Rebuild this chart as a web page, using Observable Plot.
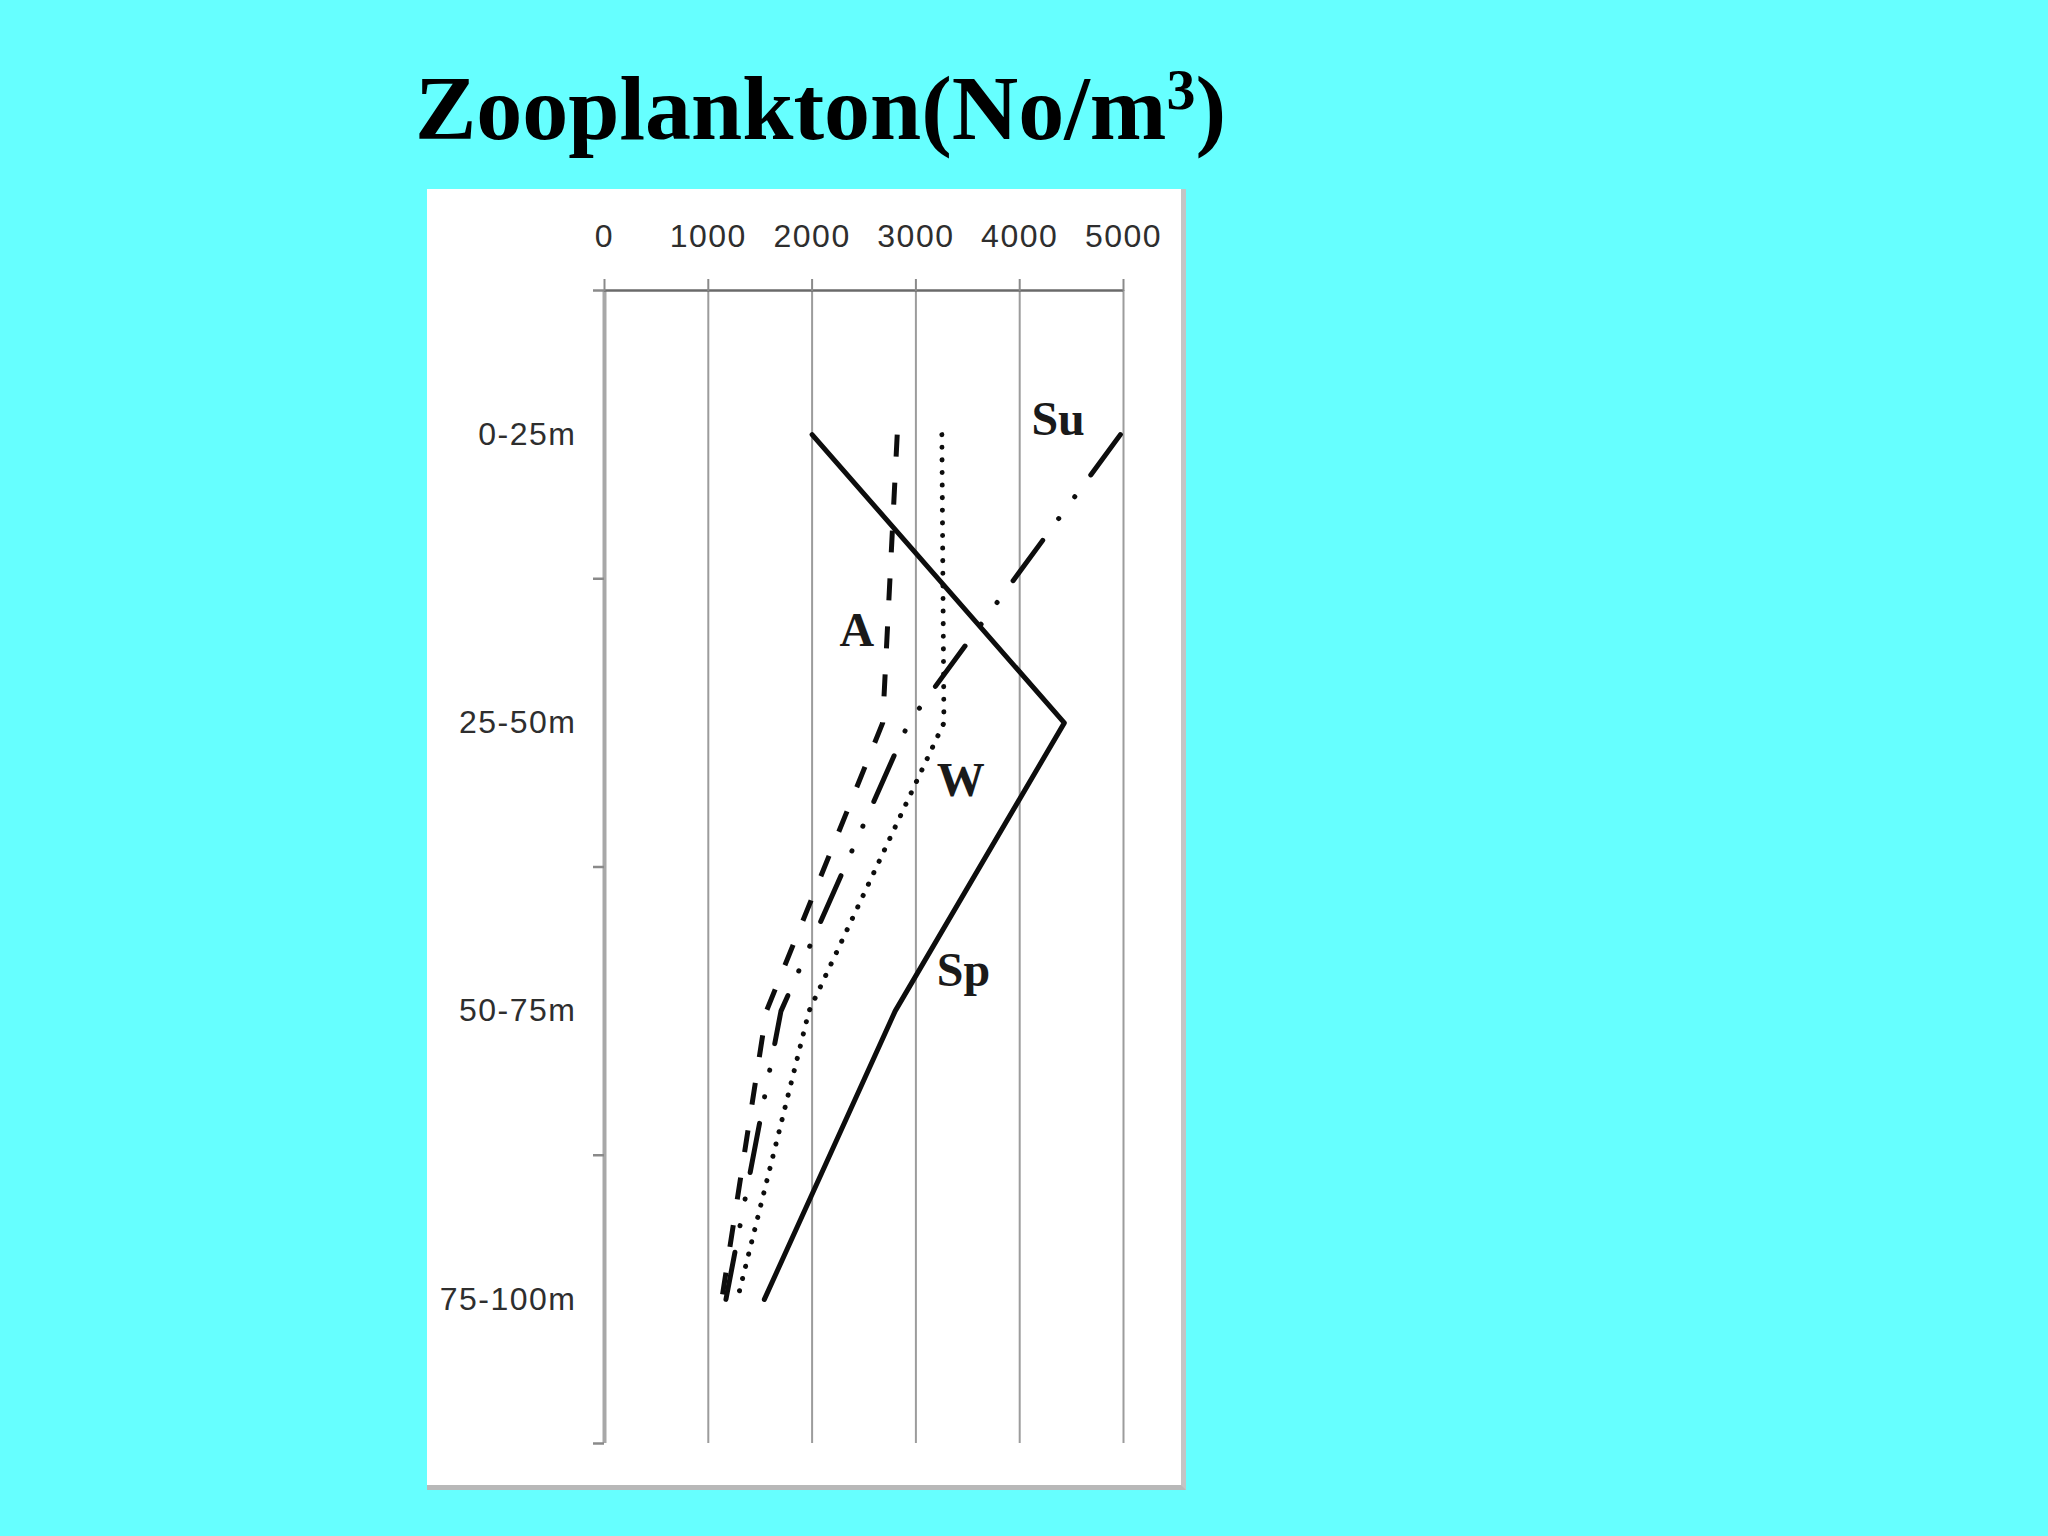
<!DOCTYPE html>
<html>
<head>
<meta charset="utf-8">
<script src="https://cdn.jsdelivr.net/npm/d3@7"></script>
<script src="https://cdn.jsdelivr.net/npm/@observablehq/plot@0.6"></script>
<style>
  html, body { margin: 0; padding: 0; }
  body { width: 2048px; height: 1536px; background: #66ffff; position: relative; overflow: hidden; }
  #title {
    position: absolute; left: 415px; top: 62px;
    font-family: "Liberation Serif", "Times New Roman", serif;
    font-weight: bold; font-size: 92px; line-height: 92px; color: #000; white-space: nowrap;
  }
  #title .sup { font-size: 58px; position: relative; top: -30px; }
  #panel {
    position: absolute; left: 427px; top: 189px;
    background: #fff;
    border-right: 5px solid #c4c4c4; border-bottom: 5px solid #b8b8b8;
    line-height: 0;
  }
  g[aria-label="x-axis tick label"] text,
  g[aria-label="y-axis tick label"] text { letter-spacing: 1.5px; }
</style>
</head>
<body>
<div id="title">Zooplankton(No/m<span class="sup">3</span>)</div>
<div id="panel"></div>
<script>
// ---- data ----
const depths = ["0-25m", "25-50m", "50-75m", "75-100m"];
const depthIndex = [0, 1, 2, 3];
const bandEdges = [-0.5, 0.5, 1.5, 2.5, 3.5];
const xTicks = [0, 1000, 2000, 3000, 4000, 5000];

const seasons = ["Sp", "Su", "A", "W"];
const spring = [2000, 4430, 2800, 1540];
const summer = [4970, 2930, 1700, 1170];
const autumn = [2820, 2680, 1560, 1130];
const winter = [3250, 3270, 1970, 1280];

// in-chart series labels (value, depth position)
const labelText = ["Su", "A", "W", "Sp"];
const labelValue = [4113, 2263, 3202, 3202];
const labelDepth = [0.003, 0.732, 1.252, 1.912];

// ---- build tables ----
const seriesValues = [spring, summer, autumn, winter];
const rows = seasons.flatMap((s, k) => seriesValues[k].map((v, i) => ({season: s, depth: depthIndex[i], value: v})));
const bySeason = s => rows.filter(d => d.season === s);
const labels = labelText.map((t, i) => ({text: t, value: labelValue[i], depth: labelDepth[i]}));

const sans = "Liberation Sans, Arial, sans-serif";
const serif = "Liberation Serif, Times New Roman, serif";

const chart = Plot.plot({
  width: 754,
  height: 1296,
  marginLeft: 177,
  marginRight: 58,
  marginTop: 101,
  marginBottom: 42,
  style: {background: "white", overflow: "visible"},
  x: {domain: [0, 5000]},
  y: {domain: [-0.5, 3.5], reverse: true},
  marks: [
    Plot.gridX(xTicks, {stroke: "#9c9c9c", strokeOpacity: 1, strokeWidth: 2}),
    Plot.ruleX([0], {stroke: "#a8a8a8", strokeWidth: 4}),
    Plot.ruleY([-0.5], {stroke: "#6a6a6a", strokeWidth: 2.5}),
    Plot.axisX(xTicks, {
      anchor: "top", label: null, tickSize: 12, tickPadding: 32,
      tickFormat: d => `${d}`, stroke: "#8a8a8a", strokeWidth: 2,
      fill: "#2e2e2e", fontSize: 32, fontFamily: sans
    }),
    Plot.axisY(bandEdges, {
      anchor: "left", label: null, tickSize: 11, tickFormat: () => "",
      stroke: "#8a8a8a", strokeWidth: 2.5
    }),
    Plot.axisY(depthIndex, {
      anchor: "left", label: null, tickSize: 0, tickPadding: 28,
      tickFormat: i => depths[i], fill: "#2e2e2e", fontSize: 32, fontFamily: sans
    }),
    Plot.line(bySeason("Sp"), {x: "value", y: "depth", stroke: "#0d0d0d", strokeWidth: 5}),
    Plot.line(bySeason("A"), {x: "value", y: "depth", stroke: "#0d0d0d", strokeWidth: 5,
      strokeDasharray: "22,26", strokeLinecap: "butt"}),
    Plot.line(bySeason("W"), {x: "value", y: "depth", stroke: "#0d0d0d", strokeWidth: 5,
      strokeDasharray: "0.1,12.5", strokeLinecap: "round"}),
    Plot.line(bySeason("Su"), {x: "value", y: "depth", stroke: "#0d0d0d", strokeWidth: 5,
      strokeDasharray: "50,27,0.1,27,0.1,27", strokeLinecap: "round"}),
    Plot.text(labels, {
      x: "value", y: "depth", text: "text", textAnchor: "start", lineAnchor: "bottom",
      fontFamily: serif, fontWeight: "bold", fontSize: 48, fill: "#1a1a1a"
    })
  ]
});
document.getElementById("panel").appendChild(chart);
</script>
</body>
</html>
